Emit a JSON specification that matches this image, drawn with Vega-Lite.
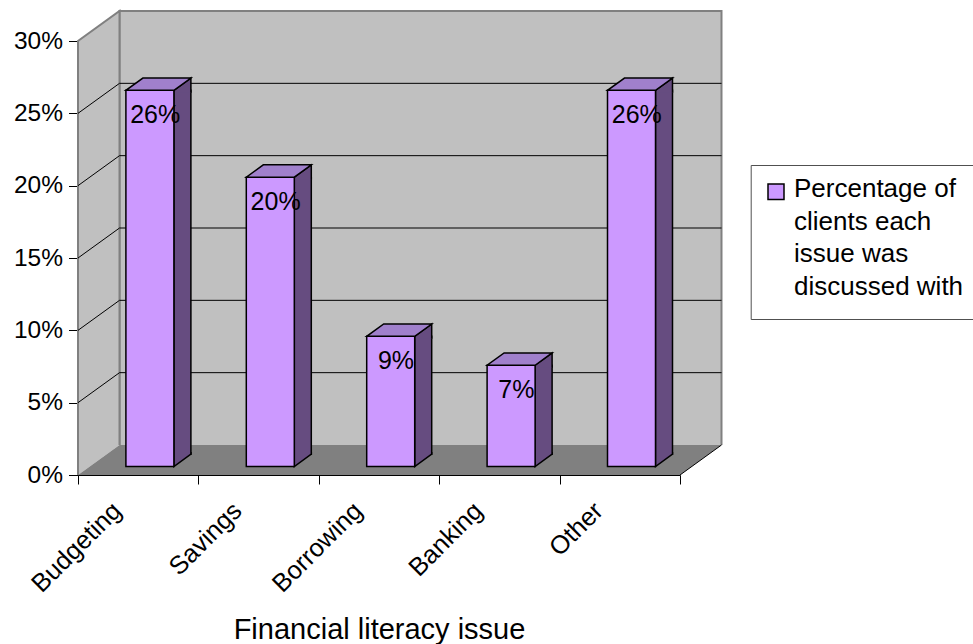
{
  "$schema": "https://vega.github.io/schema/vega-lite/v6.json",
  "width": 602,
  "height": 434,
  "autosize": {"type": "none"},
  "padding": {"left": 78, "top": 41, "right": 293, "bottom": 169},
  "background": "white",
  "config": {
    "view": {"stroke": null},
    "font": "Liberation Sans",
    "style": {"guide-label": {"lineHeight": 32.5}}
  },
  "datasets": {
    "issues": [
      {"issue": "Budgeting", "value": 0.26},
      {"issue": "Savings", "value": 0.20},
      {"issue": "Borrowing", "value": 0.09},
      {"issue": "Banking", "value": 0.07},
      {"issue": "Other", "value": 0.26}
    ],
    "levels": [
      {"level": 0.05},
      {"level": 0.10},
      {"level": 0.15},
      {"level": 0.20},
      {"level": 0.25}
    ]
  },
  "data": {"name": "issues"},
  "layer": [
    {
      "description": "back wall of the 3-D frame",
      "data": {"values": [{}]},
      "mark": {"type": "point", "shape": "M583.3,-30 L583.3,-464 L-18.7,-464 L-18.7,-30", "size": 4, "filled": true, "fill": "#C0C0C0", "stroke": "#808080", "strokeWidth": 2, "opacity": 1},
      "encoding": {
        "x": {"datum": "Budgeting", "type": "nominal", "scale": {"domain": ["Budgeting", "Savings", "Borrowing", "Banking", "Other"], "paddingInner": 0, "paddingOuter": 0}},
        "y": {"datum": 0, "type": "quantitative", "scale": {"domain": [0, 0.3], "nice": false}}
      }
    },
    {
      "description": "left side wall",
      "data": {"values": [{}]},
      "mark": {"type": "point", "shape": "M-60.2,0 L-60.2,-434 L-18.7,-464 L-18.7,-30", "size": 4, "filled": true, "fill": "#C0C0C0", "stroke": "#808080", "strokeWidth": 2, "opacity": 1},
      "encoding": {
        "x": {"datum": "Budgeting", "type": "nominal"},
        "y": {"datum": 0, "type": "quantitative"}
      }
    },
    {
      "description": "floor",
      "data": {"values": [{}]},
      "mark": {"type": "point", "shape": "M-60.2,0 L541.8,0 L583.3,-30 L-18.7,-30 Z", "size": 4, "filled": true, "fill": "#808080", "strokeWidth": 0, "opacity": 1},
      "encoding": {
        "x": {"datum": "Budgeting", "type": "nominal"},
        "y": {"datum": 0, "type": "quantitative"}
      }
    },
    {
      "description": "right edge of the floor",
      "data": {"values": [{}]},
      "mark": {"type": "point", "shape": "M541.8,0 L583.3,-30", "size": 4, "filled": false, "stroke": "black", "strokeWidth": 1, "opacity": 1},
      "encoding": {
        "x": {"datum": "Budgeting", "type": "nominal"},
        "y": {"datum": 0, "type": "quantitative"}
      }
    },
    {
      "description": "gridlines running over the side wall and along the back wall",
      "data": {"name": "levels"},
      "mark": {"type": "point", "shape": "M-60.2,0 L-18.7,-30 L583.3,-30", "size": 4, "filled": false, "stroke": "black", "strokeWidth": 1, "opacity": 1},
      "encoding": {
        "x": {"datum": "Budgeting", "type": "nominal"},
        "y": {"field": "level", "type": "quantitative"}
      }
    },
    {
      "description": "shaded right side of each column",
      "mark": {"type": "bar", "width": 17, "xOffset": 44.2, "yOffset": -8.5, "y2Offset": -20.8, "fill": "#664C80", "stroke": "black", "strokeWidth": 1.5},
      "encoding": {
        "x": {"field": "issue", "type": "nominal"},
        "y": {"field": "value", "type": "quantitative"},
        "y2": {"datum": 0}
      }
    },
    {
      "description": "upper slanted end of the side face",
      "mark": {"type": "point", "shape": "M35.7,-6 L35.7,-8.5 L52.7,-20.8 L52.7,-6", "size": 4, "filled": true, "fill": "#664C80", "stroke": "black", "strokeWidth": 1.5, "opacity": 1},
      "encoding": {
        "x": {"field": "issue", "type": "nominal"},
        "y": {"field": "value", "type": "quantitative"}
      }
    },
    {
      "description": "lower slanted end of the side face",
      "mark": {"type": "point", "shape": "M35.7,-23 L35.7,-8.5 L52.7,-20.8 L52.7,-23", "size": 4, "filled": true, "fill": "#664C80", "stroke": "black", "strokeWidth": 1.5, "opacity": 1},
      "encoding": {
        "x": {"field": "issue", "type": "nominal"},
        "y": {"datum": 0, "type": "quantitative"}
      }
    },
    {
      "description": "front face of each column",
      "mark": {"type": "bar", "width": 48, "xOffset": 11.7, "yOffset": -8.5, "y2Offset": -8.5, "stroke": "black", "strokeWidth": 1.5, "opacity": 1},
      "encoding": {
        "x": {
          "field": "issue",
          "type": "nominal",
          "axis": {
            "title": "Financial literacy issue",
            "tickBand": "extent",
            "tickSize": 9,
            "tickColor": "black",
            "domainColor": "black",
            "labelAngle": -45,
            "labelAlign": "right",
            "labelBaseline": "alphabetic",
            "labelOffset": -15.8,
            "labelPadding": 28,
            "labelFontSize": 25.5,
            "labelFont": "Liberation Sans",
            "labelColor": "black",
            "labelOverlap": false,
            "titleFont": "Liberation Sans",
            "titleFontSize": 29,
            "titleFontWeight": "normal",
            "titleColor": "black",
            "titleX": 301,
            "titleY": 163.3,
            "titleBaseline": "alphabetic",
            "titleAlign": "center"
          }
        },
        "y": {
          "field": "value",
          "type": "quantitative",
          "axis": {
            "title": null,
            "values": [0, 0.05, 0.1, 0.15, 0.2, 0.25, 0.3],
            "format": ".0%",
            "grid": false,
            "domainColor": "black",
            "tickColor": "black",
            "tickSize": 9.5,
            "labelFontSize": 24.5,
            "labelFont": "Liberation Sans",
            "labelColor": "black",
            "labelPadding": 6
          }
        },
        "y2": {"datum": 0},
        "color": {
          "datum": "Percentage of\nclients each\nissue was\ndiscussed with",
          "type": "nominal",
          "scale": {"range": ["#CC99FF"]},
          "legend": {
            "title": null,
            "orient": "none",
            "legendX": 672.7,
            "legendY": 124,
            "symbolType": "M-14.7,-13 L1.3,-13 L1.3,2.5 L-14.7,2.5 Z",
            "symbolSize": 4,
            "symbolStrokeColor": "black",
            "symbolStrokeWidth": 1.5,
            "symbolOpacity": 1,
            "labelFont": "Liberation Sans",
            "labelFontSize": 26,
            "labelColor": "black",
            "labelBaseline": "alphabetic",
            "labelOffset": -1.7,
            "labelLimit": 0,
            "labelExpr": "split(datum.label, '\\n')",
            "padding": 19,
            "strokeColor": "#505050",
            "fillColor": "white"
          }
        }
      }
    },
    {
      "description": "top face of each column",
      "mark": {"type": "point", "shape": "M-12.3,-8.5 L35.7,-8.5 L52.7,-20.8 L4.7,-20.8 Z", "size": 4, "filled": true, "fill": "#A080CC", "stroke": "black", "strokeWidth": 1.5, "opacity": 1},
      "encoding": {
        "x": {"field": "issue", "type": "nominal"},
        "y": {"field": "value", "type": "quantitative"}
      }
    },
    {
      "description": "value labels",
      "mark": {"type": "text", "font": "Liberation Sans", "fontSize": 25, "dx": 17, "dy": 16.5, "align": "center", "baseline": "middle", "color": "black"},
      "encoding": {
        "x": {"field": "issue", "type": "nominal"},
        "y": {"field": "value", "type": "quantitative"},
        "text": {"field": "value", "type": "quantitative", "format": ".0%"}
      }
    }
  ]
}
